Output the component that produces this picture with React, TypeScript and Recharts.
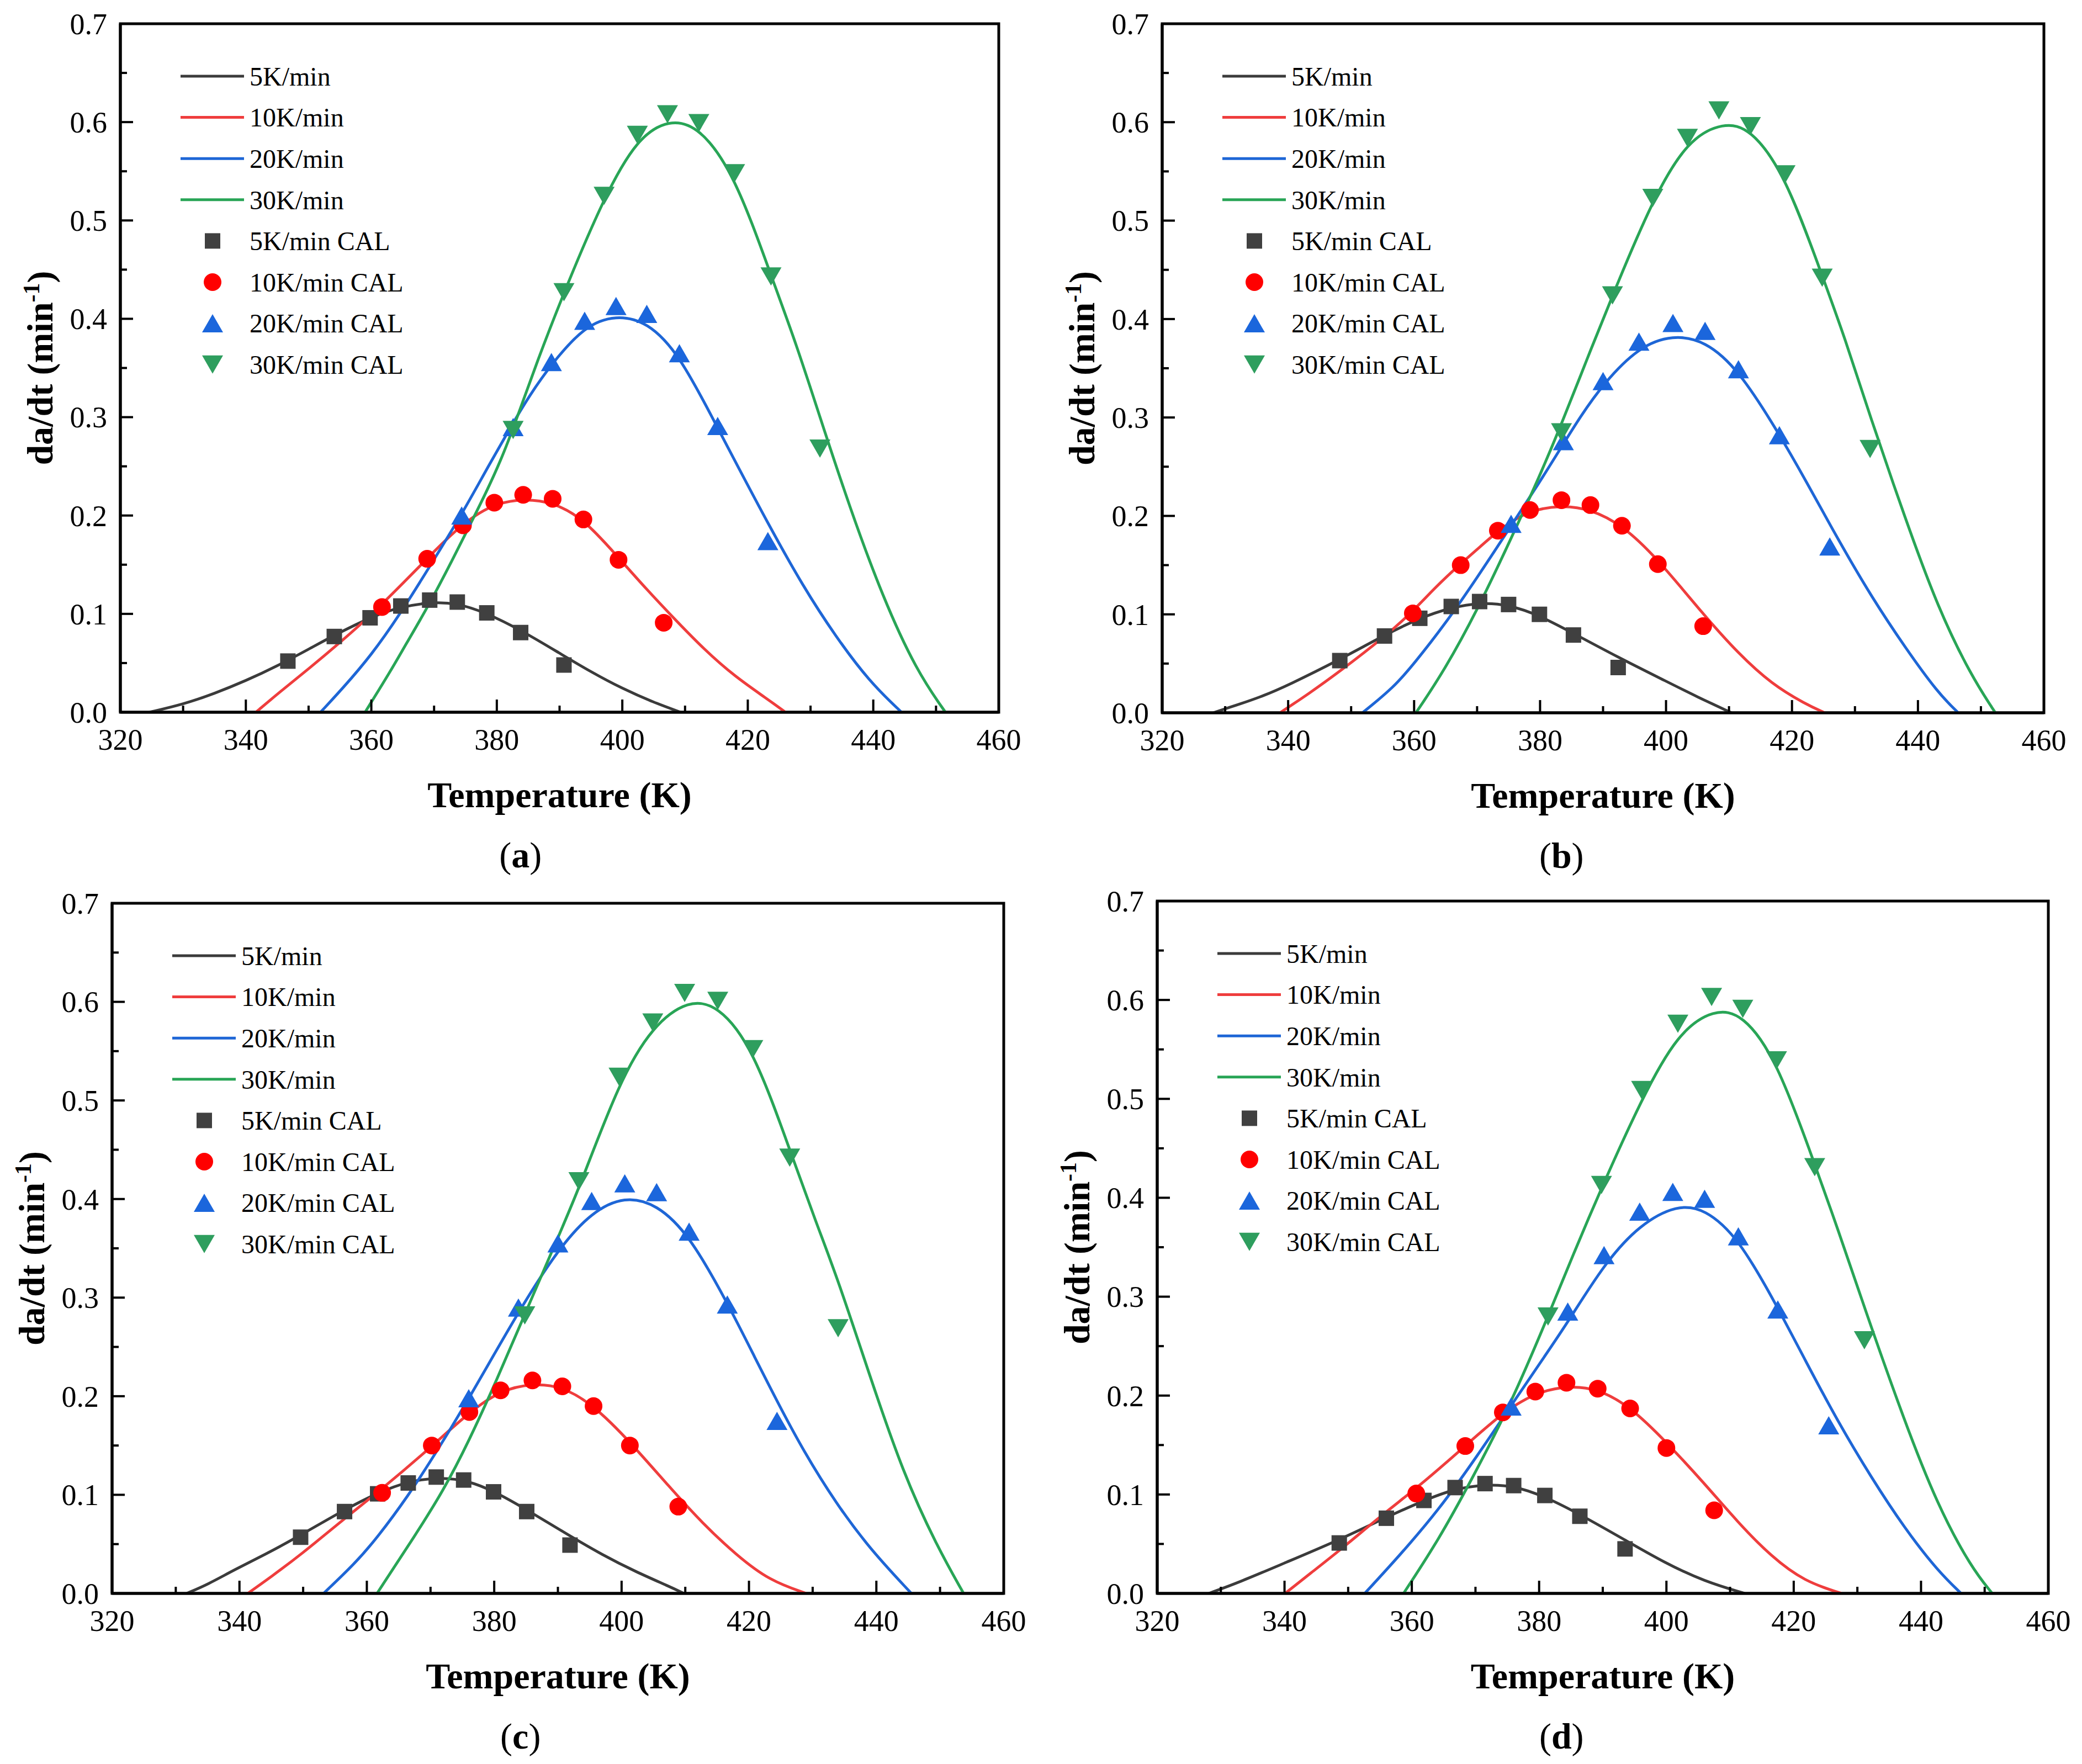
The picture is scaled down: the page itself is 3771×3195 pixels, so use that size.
import React from 'react';
import { ComposedChart, Line, Scatter, XAxis, YAxis, ReferenceArea } from 'recharts';

// ---------- tick labels / categories ----------
const X_TICKS = [320, 330, 340, 350, 360, 370, 380, 390, 400, 410, 420, 430, 440, 450, 460];
const X_LABELS = [320, 340, 360, 380, 400, 420, 440, 460];
const Y_TICKS = [0, 0.05, 0.1, 0.15, 0.2, 0.25, 0.3, 0.35, 0.4, 0.45, 0.5, 0.55, 0.6, 0.65, 0.7];
const SERIES_NAMES = ['5K/min', '10K/min', '20K/min', '30K/min'];
const CAL_NAMES = ['5K/min CAL', '10K/min CAL', '20K/min CAL', '30K/min CAL'];
const PANEL_LABELS = ['a', 'b', 'c', 'd'];

// ---------- panel (a) ----------
const A_L5 = [[324.6, 0], [330, 0.008], [335, 0.019], [340, 0.032], [345, 0.047], [350, 0.064], [354, 0.078], [360, 0.097], [364.5, 0.107], [369.5, 0.112], [373.5, 0.111], [378, 0.102], [384, 0.083], [390, 0.06], [395, 0.041], [400, 0.024], [405, 0.01], [409.3, 0]];
const A_L10 = [[341.6, 0], [345.3, 0.02], [350, 0.044], [355.4, 0.073], [360, 0.099], [365.5, 0.134], [369, 0.157], [372, 0.176], [374.6, 0.191], [377.2, 0.203], [380, 0.212], [384, 0.217], [388.8, 0.214], [393.8, 0.197], [399, 0.16], [404, 0.124], [408, 0.097], [413, 0.064], [418, 0.036], [423, 0.014], [426, 0]];
const A_L20 = [[351.9, 0], [355.4, 0.024], [360, 0.058], [364.5, 0.099], [369, 0.145], [374.4, 0.201], [378.2, 0.245], [382.2, 0.29], [385.2, 0.322], [388.7, 0.354], [394, 0.393], [399, 0.404], [404, 0.397], [409.1, 0.364], [415.2, 0.289], [418, 0.255], [423.2, 0.192], [428.8, 0.128], [434, 0.077], [439.4, 0.031], [444.5, 0]];
const A_L30 = [[359, 0], [363, 0.041], [365.5, 0.069], [369.1, 0.108], [373.1, 0.157], [375.6, 0.189], [378.2, 0.222], [380.7, 0.257], [382.7, 0.29], [386.5, 0.358], [390.7, 0.427], [397.1, 0.524], [402.4, 0.584], [407.5, 0.603], [412.2, 0.596], [417.9, 0.547], [423.7, 0.444], [427.7, 0.375], [431.5, 0.3], [436.2, 0.209], [441.5, 0.117], [446.9, 0.042], [451.5, 0]];
const A_S5 = [[346.7, 0.052], [354.1, 0.077], [359.8, 0.096], [364.7, 0.108], [369.3, 0.114], [373.7, 0.112], [378.4, 0.101], [383.8, 0.081], [390.7, 0.048]];
const A_S10 = [[361.7, 0.107], [368.9, 0.156], [374.6, 0.19], [379.6, 0.213], [384.2, 0.221], [388.9, 0.217], [393.8, 0.196], [399.4, 0.155], [406.6, 0.091]];
const A_S20 = [[374.4, 0.2], [382.6, 0.29], [388.7, 0.356], [394.0, 0.398], [399.0, 0.413], [403.9, 0.405], [409.1, 0.365], [415.2, 0.291], [423.2, 0.174]];
const A_S30 = [[382.6, 0.287], [390.7, 0.427], [397.1, 0.525], [402.4, 0.587], [407.2, 0.608], [412.2, 0.599], [417.9, 0.548], [423.7, 0.443], [431.5, 0.268]];

// ---------- panel (b) ----------
const B_L5 = [[328.1, 0], [330, 0.004], [335.7, 0.016], [340, 0.028], [348.2, 0.054], [355.3, 0.079], [360.8, 0.096], [365.8, 0.107], [370.6, 0.112], [374.9, 0.11], [379.9, 0.099], [385.2, 0.081], [392.5, 0.056], [399.4, 0.034], [405, 0.016], [410.4, 0]];
const B_L10 = [[338.7, 0], [343.2, 0.019], [348.2, 0.042], [355.3, 0.077], [359.8, 0.103], [363.3, 0.127], [367.3, 0.151], [370.9, 0.171], [373.4, 0.185], [375.9, 0.196], [378.4, 0.205], [383.2, 0.211], [388, 0.207], [393, 0.191], [398.6, 0.157], [405.9, 0.1], [411.5, 0.06], [416.8, 0.029], [422.1, 0.009], [425.2, 0]];
const B_L20 = [[351.8, 0], [356.8, 0.026], [360, 0.05], [364.8, 0.089], [370.1, 0.138], [375.4, 0.19], [379.9, 0.234], [383.2, 0.268], [386.4, 0.301], [390, 0.334], [395.7, 0.372], [401.1, 0.384], [406.2, 0.378], [411.5, 0.349], [418, 0.283], [422.1, 0.237], [427.4, 0.175], [432.7, 0.117], [438, 0.066], [443.2, 0.02], [446.4, 0]];
const B_L30 = [[360.3, 0], [364.8, 0.043], [370.1, 0.105], [375.4, 0.177], [379.9, 0.24], [383.2, 0.29], [387.5, 0.36], [391.5, 0.424], [397.9, 0.522], [403.4, 0.582], [409.1, 0.6], [413.4, 0.594], [418.9, 0.547], [424.8, 0.444], [428.4, 0.381], [432.4, 0.301], [438, 0.197], [443.2, 0.106], [448.5, 0.037], [452.3, 0]];
const B_S5 = [[348.2, 0.053], [355.3, 0.078], [360.9, 0.096], [365.9, 0.108], [370.4, 0.113], [375.0, 0.11], [379.9, 0.1], [385.3, 0.079], [392.4, 0.046]];
const B_S10 = [[359.8, 0.101], [367.4, 0.15], [373.3, 0.185], [378.4, 0.206], [383.4, 0.216], [388.0, 0.211], [393.0, 0.19], [398.7, 0.151], [405.9, 0.088]];
const B_S20 = [[375.4, 0.192], [383.7, 0.276], [390.0, 0.337], [395.7, 0.377], [401.1, 0.396], [406.2, 0.388], [411.5, 0.349], [418.0, 0.282], [426.0, 0.169]];
const B_S30 = [[383.4, 0.285], [391.5, 0.424], [397.9, 0.523], [403.4, 0.584], [408.4, 0.612], [413.4, 0.596], [418.9, 0.547], [424.8, 0.442], [432.4, 0.268]];

// ---------- panel (c) ----------
const C_L5 = [[331.7, 0], [335, 0.009], [339.2, 0.024], [344.5, 0.041], [349.6, 0.059], [356.5, 0.085], [361.7, 0.102], [366.5, 0.114], [371.8, 0.118], [376, 0.114], [379.9, 0.104], [385.1, 0.085], [391.7, 0.059], [397, 0.039], [402.2, 0.022], [407.5, 0.007], [409.8, 0]];
const C_L10 = [[341.3, 0], [345, 0.017], [349.6, 0.039], [356.5, 0.076], [362.4, 0.106], [370.2, 0.149], [376.1, 0.184], [381, 0.206], [386, 0.213], [390.7, 0.21], [395.6, 0.191], [401.3, 0.154], [407.5, 0.108], [412.7, 0.071], [418, 0.039], [423.2, 0.013], [429, 0]];
const C_L20 = [[353.2, 0], [358.1, 0.03], [361.7, 0.057], [366.5, 0.099], [370.7, 0.141], [376, 0.197], [383.8, 0.286], [390, 0.349], [395.3, 0.387], [400.5, 0.403], [405.5, 0.395], [410.6, 0.364], [416.6, 0.295], [421.1, 0.237], [424.4, 0.195], [428.5, 0.145], [433.7, 0.091], [439, 0.045], [445.5, 0]];
const C_L30 = [[361.6, 0], [367.6, 0.059], [372, 0.104], [376, 0.154], [380.5, 0.218], [384.8, 0.283], [389.6, 0.355], [393.3, 0.41], [399.6, 0.519], [404.9, 0.576], [410.5, 0.602], [415.1, 0.597], [420.6, 0.554], [426.4, 0.45], [430.6, 0.375], [434, 0.318], [439, 0.22], [444.2, 0.122], [449.5, 0.048], [453.7, 0]];
const C_S5 = [[349.6, 0.057], [356.5, 0.083], [361.7, 0.101], [366.5, 0.112], [370.9, 0.118], [375.2, 0.115], [379.9, 0.103], [385.1, 0.083], [391.9, 0.049]];
const C_S10 = [[362.4, 0.102], [370.2, 0.15], [376.1, 0.184], [381.0, 0.206], [386.0, 0.216], [390.7, 0.21], [395.6, 0.19], [401.3, 0.15], [408.9, 0.088]];
const C_S20 = [[376.0, 0.198], [383.8, 0.29], [390.0, 0.355], [395.3, 0.398], [400.5, 0.416], [405.5, 0.407], [410.6, 0.367], [416.6, 0.293], [424.4, 0.175]];
const C_S30 = [[384.8, 0.282], [393.3, 0.418], [399.6, 0.524], [404.9, 0.579], [409.9, 0.609], [415.1, 0.601], [420.6, 0.552], [426.4, 0.442], [434.0, 0.269]];

// ---------- panel (d) ----------
const D_L5 = [[328.1, 0], [332.8, 0.011], [340.1, 0.031], [348.6, 0.054], [356, 0.077], [361.9, 0.094], [366.8, 0.106], [371.5, 0.11], [376, 0.109], [380.9, 0.098], [386.4, 0.08], [393.5, 0.054], [399.7, 0.031], [406, 0.012], [412.3, 0]];
const D_L10 = [[340.1, 0], [344, 0.02], [348.6, 0.043], [356, 0.083], [360.7, 0.106], [368.4, 0.149], [374.3, 0.183], [379.4, 0.203], [384.5, 0.21], [389.2, 0.207], [394.3, 0.189], [400, 0.153], [406, 0.111], [411.2, 0.072], [416.5, 0.037], [421.7, 0.012], [427.5, 0]];
const D_L20 = [[352.6, 0], [357.9, 0.037], [364.2, 0.084], [370.4, 0.14], [375.6, 0.19], [380.9, 0.24], [384.5, 0.274], [390.2, 0.333], [395.8, 0.373], [401.7, 0.393], [406, 0.389], [411.3, 0.36], [417.5, 0.289], [421.7, 0.237], [426.9, 0.174], [432.2, 0.117], [437.4, 0.066], [442.6, 0.023], [446.3, 0]];
const D_L30 = [[358.7, 0], [364.2, 0.054], [369.4, 0.115], [375.6, 0.192], [381.4, 0.28], [385.5, 0.345], [389.8, 0.41], [396.1, 0.5], [401.8, 0.567], [407.5, 0.591], [412, 0.586], [417.3, 0.54], [423.3, 0.434], [426.9, 0.369], [431.1, 0.289], [437.4, 0.174], [442.6, 0.089], [447.9, 0.026], [451.2, 0]];
const D_S5 = [[348.6, 0.051], [356.0, 0.076], [361.9, 0.094], [366.8, 0.107], [371.5, 0.111], [376.0, 0.109], [380.9, 0.099], [386.4, 0.078], [393.5, 0.045]];
const D_S10 = [[360.7, 0.101], [368.4, 0.149], [374.3, 0.183], [379.4, 0.204], [384.3, 0.213], [389.2, 0.207], [394.3, 0.187], [400.0, 0.147], [407.5, 0.084]];
const D_S20 = [[375.6, 0.189], [384.5, 0.285], [390.2, 0.342], [395.8, 0.386], [401.0, 0.406], [406.0, 0.399], [411.3, 0.361], [417.5, 0.287], [425.5, 0.17]];
const D_S30 = [[381.4, 0.28], [389.8, 0.413], [396.1, 0.509], [401.8, 0.576], [407.1, 0.603], [412.0, 0.591], [417.3, 0.539], [423.3, 0.431], [431.1, 0.256]];

// ---------- styles / layout ----------
const FONT = '"Liberation Serif", "Times New Roman", Times, serif';
const LINE_COLORS = ['#3b3b3b', '#ef3d3d', '#1e66d6', '#28a556'];
const MARK_COLORS = ['#404040', '#ff0000', '#1b66dc', '#2e9e5e'];
const MARK_KINDS = ['square', 'circle', 'up', 'down'];
const PAGE_W = 3771;
const PAGE_H = 3195;
const YW = 200;
const MT = 60;
const MR = 80;
const XH = 100;
const AXIS_W = 5;

const PANELS = [
  { lines: [A_L5, A_L10, A_L20, A_L30], scat: [A_S5, A_S10, A_S20, A_S30], box: { l: 218, t: 43, r: 1809, b: 1290 }, cx: PAGE_W / 4 },
  { lines: [B_L5, B_L10, B_L20, B_L30], scat: [B_S5, B_S10, B_S20, B_S30], box: { l: 2105, t: 43, r: 3702, b: 1291 }, cx: (3 * PAGE_W) / 4 },
  { lines: [C_L5, C_L10, C_L20, C_L30], scat: [C_S5, C_S10, C_S20, C_S30], box: { l: 203, t: 1636, r: 1818, b: 2886 }, cx: PAGE_W / 4 },
  { lines: [D_L5, D_L10, D_L20, D_L30], scat: [D_S5, D_S10, D_S20, D_S30], box: { l: 2096, t: 1632, r: 3710, b: 2886 }, cx: (3 * PAGE_W) / 4 },
];

const toPts = (arr: number[][]) => arr.map(([x, y]) => ({ x, y }));

function Glyph({ kind, color, cx, cy }: { kind: string; color: string; cx: number; cy: number }) {
  if (kind === 'square') return <rect x={cx - 14} y={cy - 14} width={28} height={28} fill={color} />;
  if (kind === 'circle') return <circle cx={cx} cy={cy} r={16} fill={color} />;
  const s = 19;
  const h = 16.5;
  if (kind === 'up') return <polygon points={`${cx},${cy - h} ${cx - s},${cy + h} ${cx + s},${cy + h}`} fill={color} />;
  return <polygon points={`${cx},${cy + h} ${cx - s},${cy - h} ${cx + s},${cy - h}`} fill={color} />;
}

function XTick(props: any) {
  const { x, y, payload } = props;
  const v = payload.value;
  const major = X_LABELS.indexOf(v) >= 0;
  return (
    <g>
      <line x1={x} x2={x} y1={y} y2={y - (major ? 23 : 12)} stroke="#000" strokeWidth={4} />
      {major && (
        <text x={x} y={y + 68} textAnchor="middle" fontFamily={FONT} fontSize={54} fill="#000">
          {v}
        </text>
      )}
    </g>
  );
}

function YTick(props: any) {
  const { x, y, payload } = props;
  const v = payload.value;
  const major = Math.abs(v * 10 - Math.round(v * 10)) < 1e-6;
  return (
    <g>
      <line x1={x} x2={x + (major ? 23 : 12)} y1={y} y2={y} stroke="#000" strokeWidth={4} />
      {major && (
        <text x={x - 24} y={y} dy="0.35em" textAnchor="end" fontFamily={FONT} fontSize={54} fill="#000">
          {v.toFixed(1)}
        </text>
      )}
    </g>
  );
}

function Panel({ cfg }: { cfg: any }) {
  const { l, t, r, b } = cfg.box;
  const W = r - l + YW + MR;
  const H = b - t + MT + XH;
  return (
    <div style={{ position: 'absolute', left: l - YW, top: t - MT, width: W, height: H }}>
      <ComposedChart width={W} height={H} margin={{ top: MT, right: MR, left: 0, bottom: 0 }}>
        <XAxis
          type="number"
          dataKey="x"
          domain={[320, 460]}
          ticks={X_TICKS}
          interval={0}
          tickSize={0}
          tickMargin={0}
          tickLine={false}
          tick={(p: any) => <XTick {...p} />}
          height={XH}
          axisLine={{ stroke: '#000', strokeWidth: AXIS_W }}
          allowDataOverflow
        />
        <YAxis
          type="number"
          dataKey="y"
          domain={[0, 0.7]}
          ticks={Y_TICKS}
          interval={0}
          tickSize={0}
          tickMargin={0}
          tickLine={false}
          tick={(p: any) => <YTick {...p} />}
          width={YW}
          axisLine={{ stroke: '#000', strokeWidth: AXIS_W }}
          allowDataOverflow
        />
        <ReferenceArea x1={320} x2={460} y1={0} y2={0.7} fill="none" fillOpacity={0} stroke="#000" strokeWidth={AXIS_W} />
        {cfg.lines.map((arr: number[][], i: number) => (
          <Line
            key={'l' + i}
            data={toPts(arr)}
            dataKey="y"
            name={SERIES_NAMES[i]}
            type="basis"
            stroke={LINE_COLORS[i]}
            strokeWidth={5}
            dot={false}
            activeDot={false}
            isAnimationActive={false}
          />
        ))}
        {cfg.scat.map((arr: number[][], i: number) => (
          <Scatter
            key={'s' + i}
            data={toPts(arr)}
            dataKey="y"
            name={CAL_NAMES[i]}
            fill={MARK_COLORS[i]}
            isAnimationActive={false}
            shape={(p: any) =>
              p && p.cx != null && p.cy != null ? <Glyph kind={MARK_KINDS[i]} color={MARK_COLORS[i]} cx={p.cx} cy={p.cy} /> : <g />
            }
          />
        ))}
      </ComposedChart>
    </div>
  );
}

function Overlay() {
  return (
    <svg width={PAGE_W} height={PAGE_H} style={{ position: 'absolute', left: 0, top: 0, pointerEvents: 'none' }}>
      {PANELS.map((cfg, pi) => {
        const { l, t, r, b } = cfg.box;
        const rowY = (k: number) => t + 95 + k * 74.6;
        return (
          <g key={pi}>
            {SERIES_NAMES.map((name, i) => (
              <g key={'ll' + i}>
                <line x1={l + 109} x2={l + 224} y1={rowY(i)} y2={rowY(i)} stroke={LINE_COLORS[i]} strokeWidth={5} />
                <text x={l + 234} y={rowY(i)} dy="0.35em" fontFamily={FONT} fontSize={48} fill="#000">
                  {name}
                </text>
              </g>
            ))}
            {CAL_NAMES.map((name, i) => (
              <g key={'ls' + i}>
                <Glyph kind={MARK_KINDS[i]} color={MARK_COLORS[i]} cx={l + 167} cy={rowY(i + 4)} />
                <text x={l + 234} y={rowY(i + 4)} dy="0.35em" fontFamily={FONT} fontSize={48} fill="#000">
                  {name}
                </text>
              </g>
            ))}
            <text
              x={(l + r) / 2}
              y={b + 149}
              dy="0.35em"
              textAnchor="middle"
              fontFamily={FONT}
              fontWeight="bold"
              fontSize={66}
              fill="#000"
            >
              Temperature (K)
            </text>
            <text
              transform={`translate(${l - 146}, ${(t + b) / 2}) rotate(-90)`}
              dy="0.35em"
              textAnchor="middle"
              fontFamily={FONT}
              fontWeight="bold"
              fontSize={66}
              fill="#000"
            >
              da/dt (min
              <tspan dy={-24} fontSize={42}>
                -1
              </tspan>
              <tspan dy={24}>)</tspan>
            </text>
            <text x={cfg.cx} y={b + 258} dy="0.35em" textAnchor="middle" fontFamily={FONT} fontSize={66} fill="#000">
              (<tspan fontWeight="bold">{PANEL_LABELS[pi]}</tspan>)
            </text>
          </g>
        );
      })}
    </svg>
  );
}

export default function App() {
  return (
    <div style={{ position: 'absolute', left: 0, top: 0, width: PAGE_W, height: PAGE_H, background: '#fff' }}>
      {PANELS.map((cfg, i) => (
        <Panel key={i} cfg={cfg} />
      ))}
      <Overlay />
    </div>
  );
}
